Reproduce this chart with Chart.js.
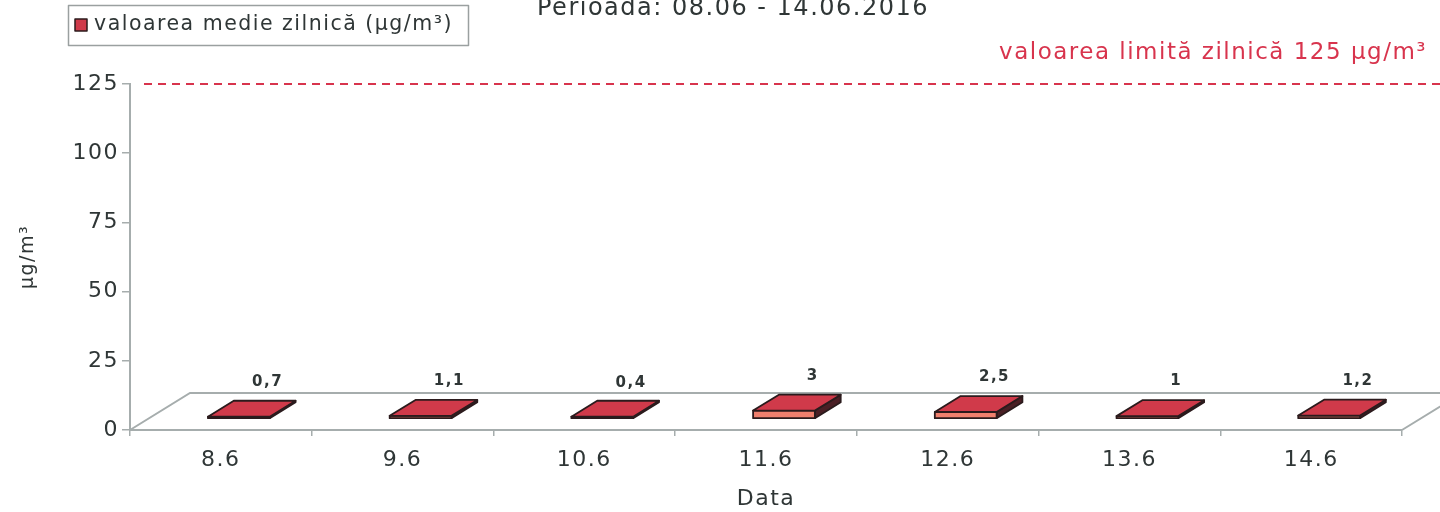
<!DOCTYPE html>
<html><head><meta charset="utf-8">
<script src="https://cdn.jsdelivr.net/npm/chart.js@4.4.1/dist/chart.umd.min.js"></script>
<style>html,body{margin:0;padding:0;background:#fff;overflow:hidden}#wrap{width:1440px;height:512px;position:relative}</style>
</head><body><div id="wrap"><canvas id="c" width="1440" height="512"></canvas></div>
<script>
// ---- data ----
const TITLE = 'Perioada: 08.06 - 14.06.2016';
const CATEGORIES = ['8.6', '9.6', '10.6', '11.6', '12.6', '13.6', '14.6'];
const DAILY_MEAN = [0.7, 1.1, 0.4, 3, 2.5, 1, 1.2];
const SERIES_LABEL = 'valoarea medie zilnică (µg/m³)';
const LIMIT_VALUE = 125;
const LIMIT_LABEL = 'valoarea limită zilnică 125 µg/m³';
const Y_MIN = 0, Y_MAX = 125, Y_STEP = 25;
const X_TITLE = 'Data';
const Y_TITLE = 'µg/m³';

// ---- style ----
const FONT = '"DejaVu Sans", "Liberation Sans", sans-serif';
const TXT = '#2f3636';
const AXIS = '#a6adad';
const RED = '#d8344d';
const DEPTH = {dx: 60, dy: -37};
const F1 = 0.3, F2 = 0.73;
const SPACING = '1.5px';

function poly(ctx, pts, fill, stroke) {
  ctx.beginPath();
  ctx.moveTo(pts[0][0], pts[0][1]);
  for (let i = 1; i < pts.length; i++) ctx.lineTo(pts[i][0], pts[i][1]);
  ctx.closePath();
  ctx.fillStyle = fill; ctx.fill();
  ctx.strokeStyle = stroke; ctx.lineWidth = 1.8; ctx.lineJoin = 'round'; ctx.stroke();
}

const pseudo3d = {
  id: 'pseudo3d',
  beforeLayout(chart) { chart.ctx.letterSpacing = SPACING; },
  beforeDraw(chart) { chart.ctx.letterSpacing = SPACING; },
  beforeDatasetsDraw(chart) {
    const {ctx, chartArea: a} = chart;
    ctx.save();
    ctx.strokeStyle = AXIS; ctx.lineWidth = 2;
    ctx.beginPath();
    ctx.moveTo(a.left, a.bottom);
    ctx.lineTo(a.left + DEPTH.dx, a.bottom + DEPTH.dy);
    ctx.lineTo(chart.width, a.bottom + DEPTH.dy);
    ctx.moveTo(a.right, a.bottom);
    ctx.lineTo(a.right + DEPTH.dx, a.bottom + DEPTH.dy);
    ctx.stroke();
    ctx.restore();
  },
  beforeDatasetDraw(chart, args) { if (args.index === 0) return false; },
  afterDatasetsDraw(chart) {
    const {ctx, chartArea: a} = chart;
    const ys = chart.scales.y;
    const meta = chart.getDatasetMeta(0);
    const ds = chart.data.datasets[0];
    ctx.save();
    ctx.letterSpacing = SPACING;
    const ddx = (F2 - F1) * DEPTH.dx, ddy = (F2 - F1) * DEPTH.dy;
    meta.data.forEach((el, i) => {
      const p = el.getProps(['x', 'y', 'base', 'width'], true);
      const h = Math.max(p.base - p.y, 1.5);
      const fl = p.x - p.width / 2 + F1 * DEPTH.dx;
      const fr = fl + p.width;
      const fb = p.base + F1 * DEPTH.dy;
      const ft = fb - h;
      poly(ctx, [[fr, ft], [fr + ddx, ft + ddy], [fr + ddx, fb + ddy], [fr, fb]], '#4a1f25', '#2b1b1d');
      poly(ctx, [[fl, ft], [fr, ft], [fr, fb], [fl, fb]], '#f0806e', '#2b1b1d');
      poly(ctx, [[fl, ft], [fr, ft], [fr + ddx, ft + ddy], [fl + ddx, ft + ddy]], '#d03a4a', '#2b1b1d');
      // value label
      const v = ds.data[i];
      ctx.font = 'bold 15px ' + FONT;
      ctx.fillStyle = TXT;
      ctx.textAlign = 'center';
      ctx.textBaseline = 'middle';
      ctx.fillText(String(v).replace('.', ','), p.x + F2 * DEPTH.dx + 3, p.y + F2 * DEPTH.dy - 19);
    });
    // limit line
    const ly = ys.getPixelForValue(LIMIT_VALUE);
    ctx.strokeStyle = RED; ctx.lineWidth = 2; ctx.setLineDash([8, 6]);
    ctx.beginPath(); ctx.moveTo(a.left + 14, ly); ctx.lineTo(chart.width, ly); ctx.stroke();
    ctx.setLineDash([]);
    ctx.font = '23px ' + FONT;
    ctx.fillStyle = RED; ctx.textAlign = 'right'; ctx.textBaseline = 'middle';
    ctx.fillText(LIMIT_LABEL, 1427, 53);
    // title (cut at top)
    ctx.font = '24px ' + FONT;
    ctx.fillStyle = TXT; ctx.textAlign = 'center'; ctx.textBaseline = 'alphabetic';
    ctx.fillText(TITLE, 733, 15);
    // legend
    ctx.strokeStyle = '#9aa0a0'; ctx.lineWidth = 1.5;
    ctx.strokeRect(68.5, 5.5, 400, 40);
    ctx.fillStyle = ds.backgroundColor; ctx.strokeStyle = '#2b1b1d';
    ctx.fillRect(75, 19, 12, 12); ctx.strokeRect(75, 19, 12, 12);
    ctx.font = '20.5px ' + FONT;
    ctx.fillStyle = TXT; ctx.textAlign = 'left'; ctx.textBaseline = 'middle';
    ctx.fillText(ds.label, 94, 25);
    ctx.restore();
  }
};

new Chart(document.getElementById('c'), {
  type: 'bar',
  data: {
    labels: CATEGORIES,
    datasets: [{
      label: SERIES_LABEL,
      data: DAILY_MEAN,
      backgroundColor: '#cf3a4a',
      barPercentage: 0.34,
      categoryPercentage: 1
    }]
  },
  options: {
    responsive: false,
    animation: false,
    devicePixelRatio: 1,
    layout: {padding: {top: 84, right: 38, left: 0, bottom: 0}},
    plugins: {legend: {display: false}, title: {display: false}, tooltip: {enabled: false}},
    scales: {
      x: {
        grid: {display: true, drawOnChartArea: false, drawTicks: true, tickLength: 6, color: AXIS, lineWidth: 1.5},
        border: {color: AXIS, width: 2},
        ticks: {font: {family: FONT, size: 22}, color: TXT, padding: 11, maxRotation: 0},
        title: {display: true, text: X_TITLE, font: {family: FONT, size: 22}, color: TXT, padding: {top: 0, bottom: 0}},
        afterFit(s) { s.height = 82; }
      },
      y: {
        min: Y_MIN, max: Y_MAX,
        grid: {display: true, drawOnChartArea: false, drawTicks: true, tickLength: 8, color: AXIS, lineWidth: 1.5},
        border: {color: AXIS, width: 2},
        ticks: {stepSize: Y_STEP, font: {family: FONT, size: 22}, color: TXT, padding: 3},
        title: {display: true, text: Y_TITLE, font: {family: FONT, size: 19}, color: TXT, padding: {top: 17, bottom: 0}},
        afterFit(s) { s.width = 130; }
      }
    }
  },
  plugins: [pseudo3d]
});
</script>
</body></html>
